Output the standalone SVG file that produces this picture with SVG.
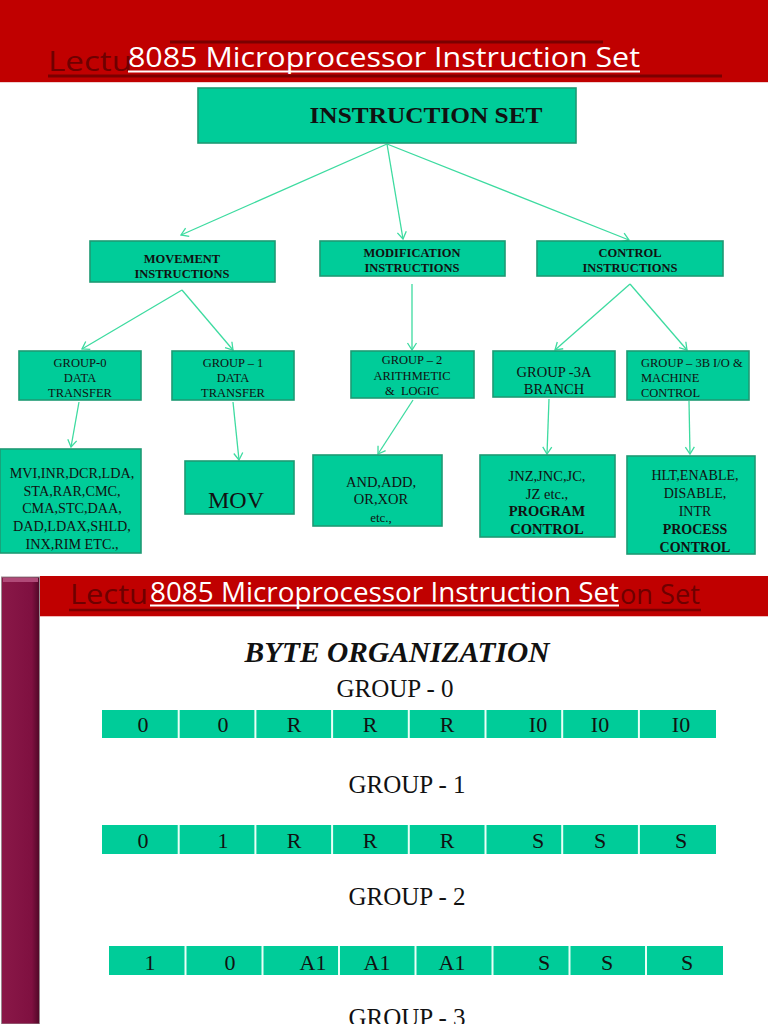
<svg xmlns="http://www.w3.org/2000/svg" width="768" height="1024" viewBox="0 0 768 1024">
<defs>
<style>
.box{fill:#00CC99;stroke:#1d9a73;stroke-width:1.6}
.conn{stroke:#3ddba0;stroke-width:1.3;fill:none;marker-end:url(#arr)}
.t{font-family:"Liberation Serif","Times New Roman",serif;fill:#111;text-anchor:middle}
.ts{font-family:"Liberation Serif","Times New Roman",serif;fill:#111;text-anchor:start}
.b{font-weight:bold}
.ttl{font-family:"Open Sans","Liberation Sans",sans-serif;font-size:27px}
.cell{font-family:"Liberation Serif",serif;font-size:22px;fill:#111;text-anchor:middle}
.sep{stroke:#e8fff6;stroke-width:2}
</style>
<marker id="arr" markerUnits="userSpaceOnUse" markerWidth="14" markerHeight="14" viewBox="-10 -7 12 14" refX="0" refY="0" orient="auto">
<path d="M-7,-4.5 L0,0 L-7,4.5" fill="none" stroke="#3ddba0" stroke-width="1.3"/>
</marker>
<linearGradient id="bar" x1="0" y1="0" x2="1" y2="0">
<stop offset="0" stop-color="#8a1848"/>
<stop offset="0.8" stop-color="#7f1040"/>
<stop offset="1" stop-color="#4f0726"/>
</linearGradient>
</defs>
<rect width="768" height="1024" fill="#ffffff"/>

<!-- Slide 1 header -->
<g id="header1">
<rect x="0" y="0" width="768" height="82" fill="#C00000"/>
<line x1="0" y1="82.5" x2="768" y2="82.5" stroke="#f0d0d0" stroke-width="1"/>
<line x1="170" y1="42" x2="603" y2="42" stroke="#7a0000" stroke-width="3"/>
<line x1="48" y1="76" x2="722" y2="76" stroke="#7a0000" stroke-width="3"/>
<text x="48" y="71" class="ttl" font-size="30" fill="#6e0000" textLength="84" lengthAdjust="spacingAndGlyphs">Lectu</text>
<text x="128" y="67" class="ttl" font-size="28" fill="#ffffff" textLength="512" lengthAdjust="spacingAndGlyphs">8085 Microprocessor Instruction Set</text>
<line x1="128" y1="71.5" x2="640" y2="71.5" stroke="#ffffff" stroke-width="2"/>
</g>

<!-- Connectors -->
<g id="connectors">
<line class="conn" x1="387" y1="144" x2="181" y2="235"/>
<line class="conn" x1="387" y1="144" x2="403" y2="239"/>
<line class="conn" x1="387" y1="144" x2="629" y2="240"/>
<line class="conn" x1="182" y1="290" x2="82" y2="349"/>
<line class="conn" x1="182" y1="290" x2="233" y2="350"/>
<line class="conn" x1="412" y1="284" x2="412" y2="350"/>
<line class="conn" x1="630" y1="284" x2="555" y2="350"/>
<line class="conn" x1="630" y1="284" x2="687" y2="350"/>
<line class="conn" x1="79" y1="402" x2="71" y2="447"/>
<line class="conn" x1="233" y1="402" x2="239" y2="460"/>
<line class="conn" x1="413" y1="400" x2="378" y2="454"/>
<line class="conn" x1="549" y1="399" x2="547" y2="454"/>
<line class="conn" x1="689" y1="401" x2="690" y2="454"/>
</g>

<g id="instruction-set">
<rect class="box" x="198" y="88" width="378" height="55"/>
<text class="t b" x="426" y="123" font-size="24" textLength="233" lengthAdjust="spacingAndGlyphs">INSTRUCTION SET</text>
</g>

<g id="movement">
<rect class="box" x="90" y="241" width="185" height="41"/>
<text class="t b" x="182" y="263" font-size="12.5">MOVEMENT</text>
<text class="t b" x="182" y="278" font-size="12.5">INSTRUCTIONS</text>
</g>
<g id="modification">
<rect class="box" x="320" y="241" width="185" height="35"/>
<text class="t b" x="412" y="257" font-size="12.5">MODIFICATION</text>
<text class="t b" x="412" y="272" font-size="12.5">INSTRUCTIONS</text>
</g>
<g id="control">
<rect class="box" x="537" y="241" width="186" height="35"/>
<text class="t b" x="630" y="257" font-size="12.5">CONTROL</text>
<text class="t b" x="630" y="272" font-size="12.5">INSTRUCTIONS</text>
</g>

<g id="group0">
<rect class="box" x="19" y="351" width="122" height="49"/>
<text class="t" x="80" y="367" font-size="12.5">GROUP-0</text>
<text class="t" x="80" y="382" font-size="12.5">DATA</text>
<text class="t" x="80" y="397" font-size="12.5">TRANSFER</text>
</g>
<g id="group1">
<rect class="box" x="172" y="351" width="122" height="49"/>
<text class="t" x="233" y="367" font-size="12.5">GROUP – 1</text>
<text class="t" x="233" y="382" font-size="12.5">DATA</text>
<text class="t" x="233" y="397" font-size="12.5">TRANSFER</text>
</g>
<g id="group2">
<rect class="box" x="351" y="351" width="123" height="47"/>
<text class="t" x="412" y="364" font-size="12.5">GROUP – 2</text>
<text class="t" x="412" y="380" font-size="12.5">ARITHMETIC</text>
<text class="t" x="412" y="395" font-size="12.5" xml:space="preserve">&amp;  LOGIC</text>
</g>
<g id="group3a">
<rect class="box" x="493" y="351" width="122" height="46"/>
<text class="t" x="554" y="377" font-size="14.5">GROUP -3A</text>
<text class="t" x="554" y="394" font-size="14.5">BRANCH</text>
</g>
<g id="group3b">
<rect class="box" x="627" y="351" width="122" height="49"/>
<text class="ts" x="641" y="367" font-size="12.5">GROUP – 3B I/O &amp;</text>
<text class="ts" x="641" y="382" font-size="12.5">MACHINE</text>
<text class="ts" x="641" y="397" font-size="12.5">CONTROL</text>
</g>

<g id="mvi">
<rect class="box" x="0" y="449" width="141" height="104"/>
<text class="t" x="72" y="478" font-size="14.2">MVI,INR,DCR,LDA,</text>
<text class="t" x="72" y="496" font-size="14.2">STA,RAR,CMC,</text>
<text class="t" x="72" y="513" font-size="14.2">CMA,STC,DAA,</text>
<text class="t" x="72" y="531" font-size="14.2">DAD,LDAX,SHLD,</text>
<text class="t" x="72" y="549" font-size="14.2">INX,RIM ETC.,</text>
</g>
<g id="mov">
<rect class="box" x="185" y="461" width="109" height="53"/>
<text class="t" x="236" y="508" font-size="24">MOV</text>
</g>
<g id="and">
<rect class="box" x="313" y="455" width="129" height="71"/>
<text class="t" x="381" y="487" font-size="14.5">AND,ADD,</text>
<text class="t" x="381" y="504" font-size="14.5">OR,XOR</text>
<text class="t" x="381" y="522" font-size="13">etc.,</text>
</g>
<g id="jnz">
<rect class="box" x="480" y="455" width="135" height="82"/>
<text class="t" x="547" y="481" font-size="14.5">JNZ,JNC,JC,</text>
<text class="t" x="547" y="499" font-size="14.5">JZ etc.,</text>
<text class="t b" x="547" y="516" font-size="14.5">PROGRAM</text>
<text class="t b" x="547" y="534" font-size="14.5">CONTROL</text>
</g>
<g id="hlt">
<rect class="box" x="627" y="456" width="128" height="98"/>
<text class="t" x="695" y="480" font-size="14">HLT,ENABLE,</text>
<text class="t" x="695" y="498" font-size="14">DISABLE,</text>
<text class="t" x="695" y="516" font-size="14">INTR</text>
<text class="t b" x="695" y="534" font-size="14">PROCESS</text>
<text class="t b" x="695" y="552" font-size="14">CONTROL</text>
</g>

<!-- Slide 2 -->
<g id="header2">
<rect x="40" y="576" width="728" height="40" fill="#C00000"/>
<line x1="40" y1="616.5" x2="768" y2="616.5" stroke="#f2b8b8" stroke-width="1"/>
<rect x="1.5" y="577" width="38" height="447" fill="url(#bar)" stroke="#9a8a90" stroke-width="1"/>
<rect x="3" y="578" width="35" height="4" fill="#b04a78"/>
<line x1="69" y1="610" x2="701" y2="610" stroke="#7a0000" stroke-width="2.5"/>
<text x="70" y="604" class="ttl" font-size="28" fill="#6e0000" textLength="78" lengthAdjust="spacingAndGlyphs">Lectu</text>
<text x="620" y="604" class="ttl" font-size="28" fill="#6e0000" textLength="80" lengthAdjust="spacingAndGlyphs">on Set</text>
<text x="150" y="602" class="ttl" font-size="26" fill="#ffffff" textLength="469" lengthAdjust="spacingAndGlyphs">8085 Microprocessor Instruction Set</text>
<line x1="150" y1="605.5" x2="619" y2="605.5" stroke="#ffffff" stroke-width="2"/>
</g>

<g id="byte-org">
<text class="t b" x="397" y="662" font-size="29" font-style="italic" textLength="305" lengthAdjust="spacingAndGlyphs">BYTE ORGANIZATION</text>
<text class="t" x="395" y="697" font-size="25">GROUP - 0</text>
<text class="t" x="407" y="793" font-size="25">GROUP - 1</text>
<text class="t" x="407" y="905" font-size="25">GROUP - 2</text>
<text class="t" x="407" y="1026" font-size="25">GROUP - 3</text>
</g>

<g id="row0">
<rect x="102" y="710" width="614" height="28" fill="#00CC99"/>
<line class="sep" x1="178.7" y1="710" x2="178.7" y2="738"/>
<line class="sep" x1="255.4" y1="710" x2="255.4" y2="738"/>
<line class="sep" x1="332.1" y1="710" x2="332.1" y2="738"/>
<line class="sep" x1="408.8" y1="710" x2="408.8" y2="738"/>
<line class="sep" x1="485.5" y1="710" x2="485.5" y2="738"/>
<line class="sep" x1="562.2" y1="710" x2="562.2" y2="738"/>
<line class="sep" x1="638.9" y1="710" x2="638.9" y2="738"/>
<text class="cell" x="143" y="732">0</text>
<text class="cell" x="223" y="732">0</text>
<text class="cell" x="294" y="732">R</text>
<text class="cell" x="370" y="732">R</text>
<text class="cell" x="447" y="732">R</text>
<text class="cell" x="538" y="732">I0</text>
<text class="cell" x="600" y="732">I0</text>
<text class="cell" x="681" y="732">I0</text>
</g>

<g id="row1">
<rect x="102" y="825" width="614" height="29" fill="#00CC99"/>
<line class="sep" x1="178.7" y1="825" x2="178.7" y2="854"/>
<line class="sep" x1="255.4" y1="825" x2="255.4" y2="854"/>
<line class="sep" x1="332.1" y1="825" x2="332.1" y2="854"/>
<line class="sep" x1="408.8" y1="825" x2="408.8" y2="854"/>
<line class="sep" x1="485.5" y1="825" x2="485.5" y2="854"/>
<line class="sep" x1="562.2" y1="825" x2="562.2" y2="854"/>
<line class="sep" x1="638.9" y1="825" x2="638.9" y2="854"/>
<text class="cell" x="143" y="848">0</text>
<text class="cell" x="223" y="848">1</text>
<text class="cell" x="294" y="848">R</text>
<text class="cell" x="370" y="848">R</text>
<text class="cell" x="447" y="848">R</text>
<text class="cell" x="538" y="848">S</text>
<text class="cell" x="600" y="848">S</text>
<text class="cell" x="681" y="848">S</text>
</g>

<g id="row2">
<rect x="109" y="946" width="614" height="29" fill="#00CC99"/>
<line class="sep" x1="185.5" y1="946" x2="185.5" y2="975"/>
<line class="sep" x1="262.5" y1="946" x2="262.5" y2="975"/>
<line class="sep" x1="339" y1="946" x2="339" y2="975"/>
<line class="sep" x1="415.5" y1="946" x2="415.5" y2="975"/>
<line class="sep" x1="492.5" y1="946" x2="492.5" y2="975"/>
<line class="sep" x1="569.5" y1="946" x2="569.5" y2="975"/>
<line class="sep" x1="646" y1="946" x2="646" y2="975"/>
<text class="cell" x="150" y="970">1</text>
<text class="cell" x="230" y="970">0</text>
<text class="cell" x="313" y="970">A1</text>
<text class="cell" x="377" y="970">A1</text>
<text class="cell" x="452" y="970">A1</text>
<text class="cell" x="544" y="970">S</text>
<text class="cell" x="607" y="970">S</text>
<text class="cell" x="687" y="970">S</text>
</g>
</svg>
